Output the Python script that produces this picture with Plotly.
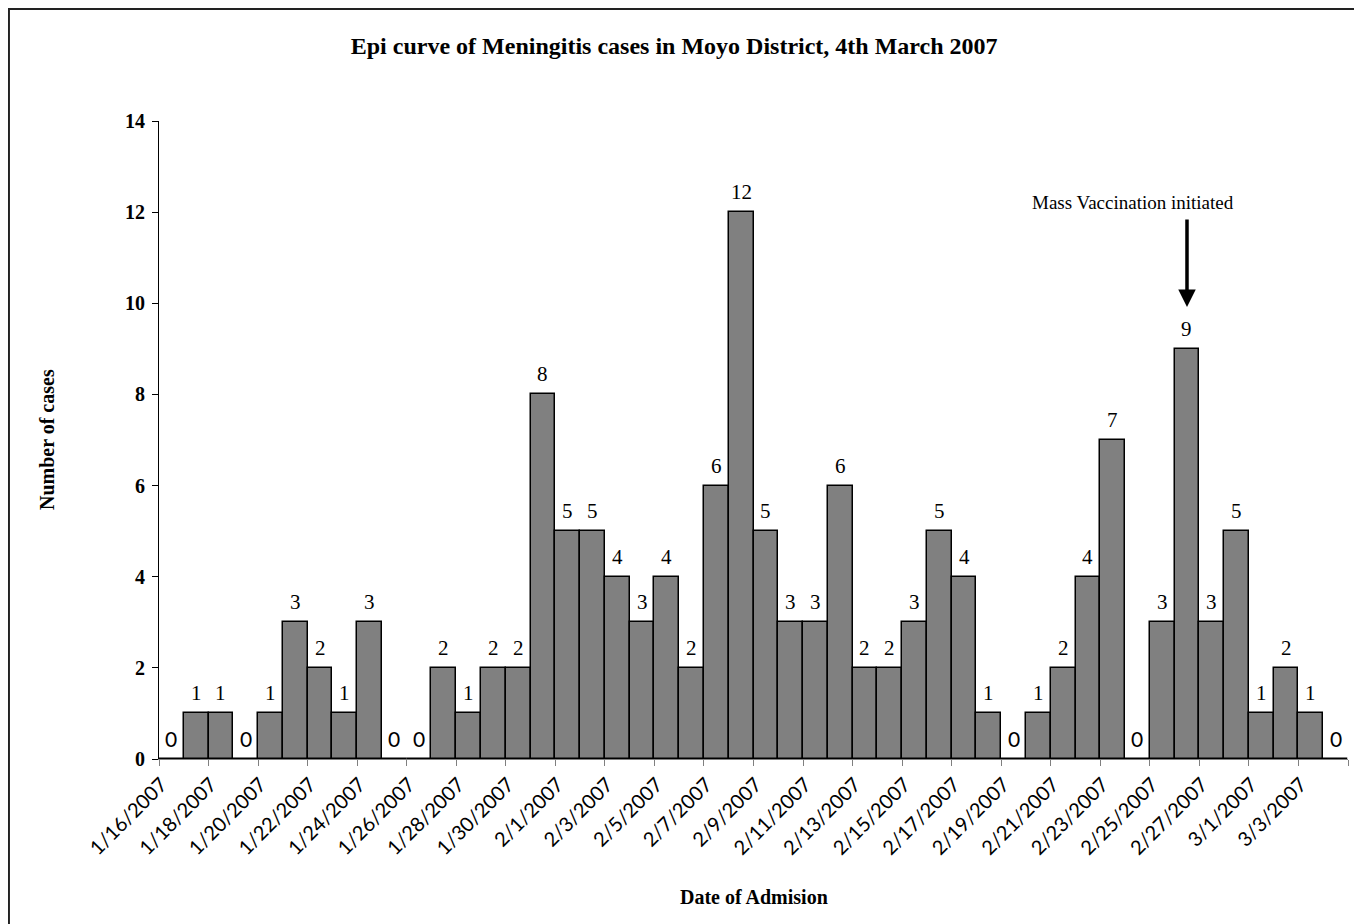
import plotly.graph_objects as go
import pandas as pd

# ---- data ----
dates = [
    "2007-01-16", "2007-01-17", "2007-01-18", "2007-01-19", "2007-01-20", "2007-01-21",
    "2007-01-22", "2007-01-23", "2007-01-24", "2007-01-25", "2007-01-26", "2007-01-27",
    "2007-01-28", "2007-01-29", "2007-01-30", "2007-01-31", "2007-02-01", "2007-02-02",
    "2007-02-03", "2007-02-04", "2007-02-05", "2007-02-06", "2007-02-07", "2007-02-08",
    "2007-02-09", "2007-02-10", "2007-02-11", "2007-02-12", "2007-02-13", "2007-02-14",
    "2007-02-15", "2007-02-16", "2007-02-17", "2007-02-18", "2007-02-19", "2007-02-20",
    "2007-02-21", "2007-02-22", "2007-02-23", "2007-02-24", "2007-02-25", "2007-02-26",
    "2007-02-27", "2007-02-28", "2007-03-01", "2007-03-02", "2007-03-03", "2007-03-04",
]
cases = [0, 1, 1, 0, 1, 3, 2, 1, 3, 0, 0, 2, 1, 2, 2, 8,
         5, 5, 4, 3, 4, 2, 6, 12, 5, 3, 3, 6, 2, 2, 3, 5, 4, 1, 0, 1, 2, 4, 7, 0, 3, 9, 3, 5,
         1, 2, 1, 0]
tick_dates = dates[0::2][:24]
tick_labels = ["1/16/2007", "1/18/2007", "1/20/2007", "1/22/2007", "1/24/2007", "1/26/2007",
               "1/28/2007", "1/30/2007", "2/1/2007", "2/3/2007", "2/5/2007", "2/7/2007",
               "2/9/2007", "2/11/2007", "2/13/2007", "2/15/2007", "2/17/2007", "2/19/2007",
               "2/21/2007", "2/23/2007", "2/25/2007", "2/27/2007", "3/1/2007", "3/3/2007"]
vaccination_date = "2007-02-26"

title_text = "Epi curve of Meningitis cases in Moyo District, 4th March 2007"
x_title = "Date of Admision"
y_title = "Number of cases"
note_text = "Mass Vaccination initiated"

SERIF = "Liberation Serif"
SANS = "Lato"

half_day = pd.Timedelta(hours=12)
dts = pd.to_datetime(dates)
boundaries = [(d - half_day).strftime("%Y-%m-%d %H:%M") for d in dts[0::2]]
boundaries.append((dts[-1] + half_day).strftime("%Y-%m-%d %H:%M"))

fig = go.Figure()
fig.add_trace(go.Bar(
    x=dates, y=cases,
    marker=dict(color="#808080", line=dict(color="black", width=1.5)),
    width=86400000,
    hoverinfo="x+y",
))

annotations = []
for d, v in zip(dates, cases):
    annotations.append(dict(
        x=d, y=v, xref="x", yref="y", text=str(v), showarrow=False,
        yanchor="bottom", yshift=6,
        font=dict(family=SANS if v == 0 else SERIF, size=21, color="black"),
    ))

# arrow for mass vaccination
annotations.append(dict(
    x=vaccination_date, y=9.92, xref="x", yref="y", text="", showarrow=True,
    ax=0, ay=-89, axref="pixel", ayref="pixel",
    arrowhead=2, arrowsize=1, arrowwidth=3.5, arrowcolor="black",
))
annotations.append(dict(
    x=vaccination_date, y=12.22, xref="x", yref="y", text=note_text, showarrow=False,
    xshift=-54, font=dict(family=SERIF, size=19, color="black"),
))
# axis titles
annotations.append(dict(
    x=0.5, y=-0.2367, xref="paper", yref="paper", text=f"<b>{x_title}</b>", showarrow=False,
    font=dict(family=SERIF, size=20, color="black"),
))
annotations.append(dict(
    x=-0.1051, y=0.5, xref="paper", yref="paper", text=f"<b>{y_title}</b>", showarrow=False,
    textangle=-90, font=dict(family=SERIF, size=20, color="black"),
))

fig.update_layout(
    width=1354, height=916,
    margin=dict(l=151, r=14, t=113, b=165),
    paper_bgcolor="white", plot_bgcolor="white",
    bargap=0,
    showlegend=False,
    title=dict(text=f"<b>{title_text}</b>", x=0.492, xanchor="center", y=0.9585, yanchor="middle",
               font=dict(family=SERIF, size=24, color="black")),
    annotations=annotations,
    shapes=[dict(type="rect", xref="paper", yref="paper",
                 x0=-0.1262, x1=1.0101, y0=-0.27, y1=1.1755,
                 line=dict(color="#222222", width=2))],
)
fig.update_xaxes(
    type="date",
    range=[boundaries[0], boundaries[-1]],
    tickmode="array", tickvals=tick_dates, ticktext=tick_labels,
    tickangle=-45, ticks="", ticklabelshift=-10, ticklabelstandoff=5,
    tickfont=dict(family=SANS, size=20, color="black"),
    minor=dict(tickmode="array", tickvals=boundaries, ticks="outside", ticklen=6,
               tickcolor="#808080", tickwidth=1, showgrid=False),
    showline=True, linecolor="#808080", linewidth=1,
    showgrid=False, zeroline=False,
)
fig.update_yaxes(
    range=[0, 14], tickvals=[0, 2, 4, 6, 8, 10, 12, 14],
    ticks="outside", ticklen=6, tickcolor="black", ticklabelstandoff=3,
    tickfont=dict(family=SERIF, size=20, color="black", weight="bold"),
    showline=True, linecolor="black", linewidth=1,
    showgrid=False, zeroline=False,
)

fig.write_html("out.html")
